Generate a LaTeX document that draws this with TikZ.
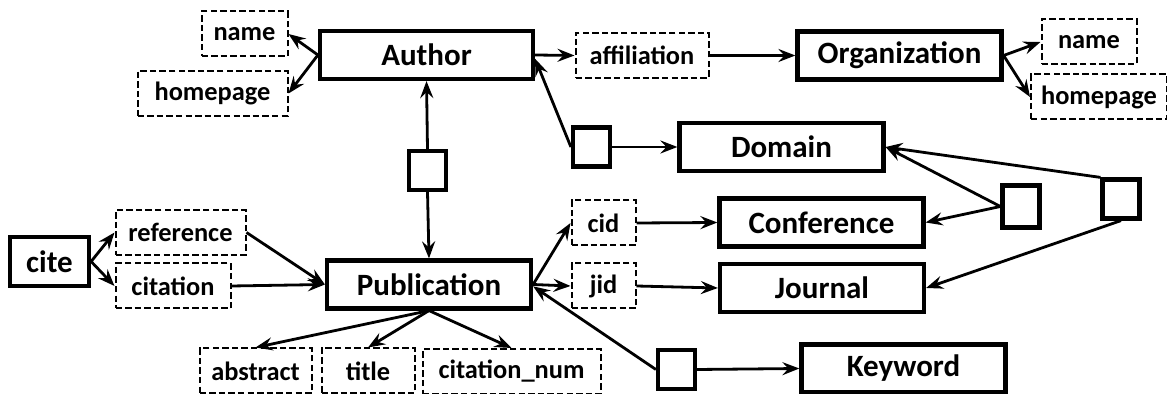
\documentclass[tikz,border=0pt]{standalone}
\usepackage{fontspec}
\setmainfont{Carlito}
\usetikzlibrary{arrows.meta}

\begin{document}
\begin{tikzpicture}[x=0.5pt, y=-0.5pt,
    entity/.style={draw=black, line width=2.1pt, minimum width=102pt, minimum height=24pt, inner sep=0pt, font=\fontsize{15.5}{18}\selectfont\bfseries},
    attr/.style={draw=black, line width=1pt, dash pattern=on 3.2pt off 1.6pt, minimum height=22.5pt, inner sep=0pt, font=\fontsize{13.2}{15.6}\selectfont\bfseries},
    rel/.style={draw=black, line width=2.1pt, minimum width=18.5pt, minimum height=19.5pt, inner sep=0pt},
    link/.style={line width=1.4pt, -{Stealth[length=8.5pt, width=6.5pt, inset=3pt]}}]
            \useasboundingbox[fill=white] (0, 0) rectangle (1167, 394);

            % entities
            \node[entity, minimum width=106.5pt] (Author) at (426.5, 55) {Author};
            \node[entity] (Organization) at (899.5, 55.5) {Organization};
            \node[entity] (Domain) at (781.5, 147) {Domain};
            \node[entity] (Conference) at (821.5, 222.5) {Conference};
            \node[entity] (Journal) at (822, 288) {Journal};
            \node[entity] (Keyword) at (903.5, 368.5) {Keyword};
            \node[entity] (Publication) at (429, 284.5) {Publication};
            \node[entity, minimum width=39.5pt, minimum height=24.5pt] (cite) at (49.5, 261.5) {cite};

            % attributes
            \node[attr, minimum width=43pt] (aname) at (244.5, 34) {name};
            \node[attr, minimum width=75pt] (ahome) at (212.5, 93.5) {homepage};
            \node[attr, minimum width=66.5pt] (affil) at (642, 55.5) {affiliation};
            \node[attr, minimum width=47.5pt] (oname) at (1089, 42) {name};
            \node[attr, minimum width=68pt] (ohome) at (1099, 97) {homepage};
            \node[attr, minimum width=65pt] (ref) at (180.5, 232.5) {reference};
            \node[attr, minimum width=57.5pt] (citation) at (173, 286) {citation};
            \node[attr, minimum width=56pt] (abstract) at (255.5, 371) {abstract};
            \node[attr, minimum width=46.5pt] (title) at (368, 371) {title};
            \node[attr, minimum width=89pt] (cnum) at (511.5, 371.5) {citation\_num};
            \node[attr, minimum width=32pt] (cid) at (603.5, 223) {cid};
            \node[attr, minimum width=32pt] (jid) at (603.5, 286) {jid};

            % relations
            \node[rel] (rAP) at (427.5, 170.5) {};
            \node[rel] (rAD) at (591.5, 147) {};
            \node[rel, minimum height=21pt] (rCD) at (1021, 206.5) {};
            \node[rel] (rJD) at (1121, 199) {};
            \node[rel] (rPK) at (676.5, 369.5) {};

            \path[link] (Author.west) edge (aname.east);
            \path[link] (Author.west) edge (ahome.east);
            \path[link] (Author.east) edge (affil.west);
            \path[link] (affil.east) edge (Organization.west);
            \path[link] (Organization.east) edge (oname.west);
            \path[link] (Organization.east) edge (ohome.west);

            \path[link] (rAP.north) edge (Author.south);
            \path[link] (rAP.south) edge (Publication.north);
            \path[link] (rAD.west) edge (Author.-2.5);
            \path[link] (rAD.east) edge (Domain.west);
            \path[link] (rCD.west) edge (Domain.east);
            \path[link] (rCD.west) edge (Conference.east);
            \path[link] (rJD.north west) edge (Domain.east);
            \path[link] (rJD.south) edge (Journal.east);
            \path[link] (rPK.west) edge (Publication.-1.5);
            \path[link] (rPK.east) edge (Keyword.west);

            \path[link] (Publication.east) edge (cid.west);
            \path[link] (Publication.east) edge (jid.west);
            \path[link] (cid.east) edge (Conference.west);
            \path[link] (jid.east) edge (Journal.west);

            \path[link] (cite.east) edge (ref.west);
            \path[link] (cite.east) edge (citation.west);
            \path[link] (ref.east) edge (Publication.west);
            \path[link] (citation.east) edge (Publication.west);

            \path[link] (Publication.south) edge (abstract.north);
            \path[link] (Publication.south) edge (title.north);
            \path[link] (Publication.south) edge (cnum.north);
        \end{tikzpicture}
\end{document}
